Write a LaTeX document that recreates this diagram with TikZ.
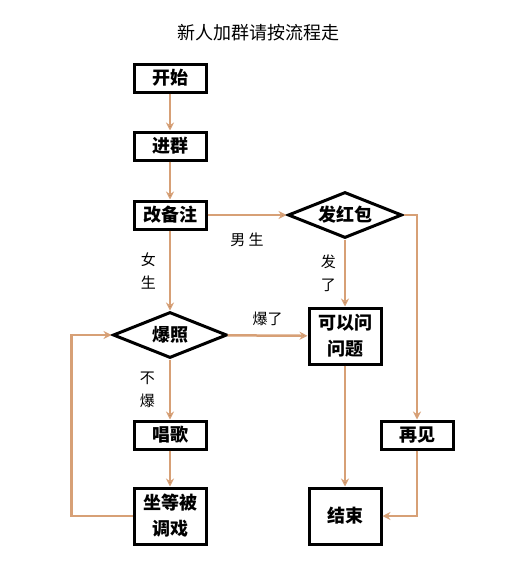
\documentclass[tikz,border=0pt]{standalone}
\usepackage{fontspec}
\setmainfont{Noto Sans CJK SC}
\usetikzlibrary{shapes.geometric,positioning,arrows.meta}
\definecolor{flowline}{RGB}{215,160,118}

\begin{document}
\begin{tikzpicture}[x=1pt,y=1pt,node distance=70pt,on grid,auto,
	box/.style={draw,line width=3pt,minimum width=72pt,minimum height=28pt,inner sep=0pt,align=center,font=\fontsize{18}{26}\selectfont\bfseries},
	tallbox/.style={box,minimum height=56pt},
	choice/.style={draw,diamond,shape aspect=2.4,line width=3pt,minimum width=114pt,minimum height=46pt,inner sep=0pt,font=\fontsize{18}{26}\selectfont\bfseries},
	flow/.style={draw=flowline,line width=2.5pt,-{Stealth[length=8pt,width=8pt]}},
	lbl/.style={inner sep=0pt,align=center,font=\fontsize{15}{23}\selectfont}]
	\useasboundingbox (0,0) rectangle (510,-579);
	\node[font=\fontsize{18}{18}\selectfont] (title) at (258,-33) {新人加群请按流程走};
	
					\node[box]     (start)  at (170,-78)          {开始};
					\node[box]     (join)   [below=68pt of start]  {进群};
					\node[box]     (remark) [below=69pt of join]   {改备注};
					\node[choice]  (photo)  [below=120pt of remark] {爆照};
					\node[box]     (sing)   [below=100pt of photo] {唱歌};
					\node[tallbox] (tease)  [below=81pt of sing]   {坐等被\\调戏};
					
					\node[choice]  (packet) [right=175pt of remark] {发红包};
					\node[tallbox] (ask)    [below=121pt of packet] {可以问\\问题};
					\node[tallbox] (finish) [below=180pt of ask]    {结束};
					\node[box]     (bye)    [right=247pt of sing]   {再见};
					
					\path[flow] (start)  edge (join)
						  (join)   edge (remark)
						  (remark) edge node[lbl,below=17pt] {男 生} (packet)
						  (remark) edge node[lbl,left=13pt] {女\\生} (photo)
						  (photo)  edge node[lbl,above=9pt] {爆了} (ask)
						  (photo)  edge node[lbl,left=14pt] {不\\爆} (sing)
						  (sing)   edge (tease)
						  (packet) edge node[lbl,left=8pt] {发\\了} (ask)
						  (ask)    edge (finish);
					\draw[flow] (tease.west) -- ++(-61,0) |- (photo.west);
					\draw[flow] (packet.east) -| (bye);
					\draw[flow] (bye) |- (finish);
				\end{tikzpicture}
\end{document}
